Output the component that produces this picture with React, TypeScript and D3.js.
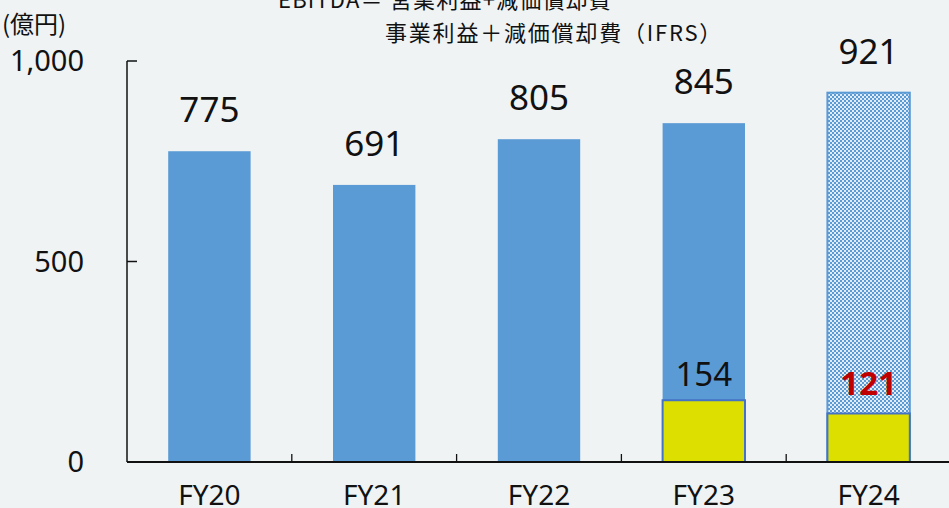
import React, { useEffect, useRef } from "react";
import * as d3 from "d3";

const WIDTH = 949;
const HEIGHT = 508;

const categories = ["FY20", "FY21", "FY22", "FY23", "FY24"];
const ebitda = [775, 691, 805, 845, 921];
const ifrsPart = [null, null, null, 154, 121];
const forecastIndex = 4;
const yTicks = [0, 500, 1000];

const BLUE = "#5b9bd5";
const YELLOW = "#dcdf00";
const BG = "#eff3f4";

const App = () => {
  const svgRef = useRef<SVGSVGElement>(null);

  useEffect(() => {
    const svg = d3.select(svgRef.current);
    svg.selectAll("*").remove();

    const left = 127;
    const x = d3
      .scaleBand()
      .domain(categories)
      .range([left, left + 824])
      .paddingInner(0.5)
      .paddingOuter(0.25);
    const y = d3.scaleLinear().domain([0, 1000]).range([462, 61]);

    svg.append("rect").attr("width", WIDTH).attr("height", HEIGHT).attr("fill", BG);

    // checker pattern for the forecast bar
    const defs = svg.append("defs");
    const pat = defs
      .append("pattern")
      .attr("id", "chk")
      .attr("width", 4)
      .attr("height", 4)
      .attr("patternUnits", "userSpaceOnUse");
    pat.append("rect").attr("width", 4).attr("height", 4).attr("fill", "#e2ecf7");
    pat.append("rect").attr("width", 2).attr("height", 2).attr("fill", BLUE);
    pat.append("rect").attr("x", 2).attr("y", 2).attr("width", 2).attr("height", 2).attr("fill", BLUE);

    const font = "'Noto Sans', 'Open Sans', sans-serif";
    const jp = "'Noto Sans CJK JP', sans-serif";

    // titles
    svg
      .append("text")
      .attr("x", 278)
      .attr("y", 8)
      .attr("font-family", jp)
      .attr("font-size", 22)
      .attr("letter-spacing", 1.2)
      .attr("fill", "#111")
      .text("EBITDA＝ 営業利益+減価償却費");
    svg
      .append("text")
      .attr("x", 385)
      .attr("y", 41)
      .attr("font-family", jp)
      .attr("font-size", 22)
      .attr("letter-spacing", 1.8)
      .attr("fill", "#111")
      .text("事業利益＋減価償却費（IFRS）");
    svg
      .append("text")
      .attr("x", 2)
      .attr("y", 33)
      .attr("font-family", jp)
      .attr("font-size", 24)
      .attr("fill", "#111")
      .text("(億円)");

    // bars
    categories.forEach((c, i) => {
      const bx = x(c)!;
      const bw = x.bandwidth();
      const top = y(ebitda[i]);
      if (i === forecastIndex) {
        svg
          .append("rect")
          .attr("x", bx)
          .attr("y", top)
          .attr("width", bw)
          .attr("height", y(0) - top)
          .attr("fill", "url(#chk)")
          .attr("stroke", BLUE)
          .attr("stroke-width", 2);
      } else {
        svg
          .append("rect")
          .attr("x", bx)
          .attr("y", top)
          .attr("width", bw)
          .attr("height", y(0) - top)
          .attr("fill", BLUE);
      }
      svg
        .append("text")
        .attr("x", bx + bw / 2)
        .attr("y", top - 29)
        .attr("text-anchor", "middle")
        .attr("font-family", font)
        .attr("font-size", 35)
        .attr("fill", "#111")
        .text(d3.format(",")(ebitda[i]));

      const v = ifrsPart[i];
      if (v != null) {
        const t2 = y(v);
        svg
          .append("rect")
          .attr("x", bx)
          .attr("y", t2)
          .attr("width", bw)
          .attr("height", y(0) - t2)
          .attr("fill", YELLOW)
          .attr("stroke", "#4472c4")
          .attr("stroke-width", 2);
        const forecast = i === forecastIndex;
        svg
          .append("text")
          .attr("x", bx + bw / 2)
          .attr("y", t2 - (forecast ? 18 : 14))
          .attr("text-anchor", "middle")
          .attr("font-family", font)
          .attr("font-size", 33)
          .attr("font-weight", forecast ? "bold" : "normal")
          .attr("fill", forecast ? "#c00000" : "#111")
          .text(v);
      }
    });

    // y axis
    const yAxis = svg.append("g").attr("transform", `translate(${left},0)`);
    yAxis
      .append("line")
      .attr("y1", y(1000))
      .attr("y2", y(0))
      .attr("stroke", "#111")
      .attr("stroke-width", 1.5);
    yTicks.forEach((t) => {
      yAxis
        .append("line")
        .attr("x1", 0)
        .attr("x2", 10)
        .attr("y1", y(t))
        .attr("y2", y(t))
        .attr("stroke", "#111")
        .attr("stroke-width", 1.5);
      yAxis
        .append("text")
        .attr("x", -43)
        .attr("y", y(t) + 10)
        .attr("text-anchor", "end")
        .attr("font-family", font)
        .attr("font-size", 29)
        .attr("fill", "#111")
        .text(d3.format(",")(t));
    });

    // x axis
    svg
      .append("line")
      .attr("x1", left)
      .attr("x2", WIDTH + 5)
      .attr("y1", y(0))
      .attr("y2", y(0))
      .attr("stroke", "#111")
      .attr("stroke-width", 1.8);
    const step = x.step();
    categories.slice(1).forEach((c) => {
      const tx = x(c)! - (step * x.paddingInner()) / 2;
      svg
        .append("line")
        .attr("x1", tx)
        .attr("x2", tx)
        .attr("y1", y(0))
        .attr("y2", y(0) - 8)
        .attr("stroke", "#111")
        .attr("stroke-width", 1.3);
    });
    categories.forEach((c) => {
      svg
        .append("text")
        .attr("x", x(c)! + x.bandwidth() / 2)
        .attr("y", 505)
        .attr("text-anchor", "middle")
        .attr("font-family", font)
        .attr("font-size", 28)
        .attr("fill", "#111")
        .text(c);
    });
  }, []);

  return (
    <svg
      ref={svgRef}
      width={WIDTH}
      height={HEIGHT}
      style={{ position: "absolute", left: 0, top: 0, display: "block" }}
    ></svg>
  );
};

export default App;
